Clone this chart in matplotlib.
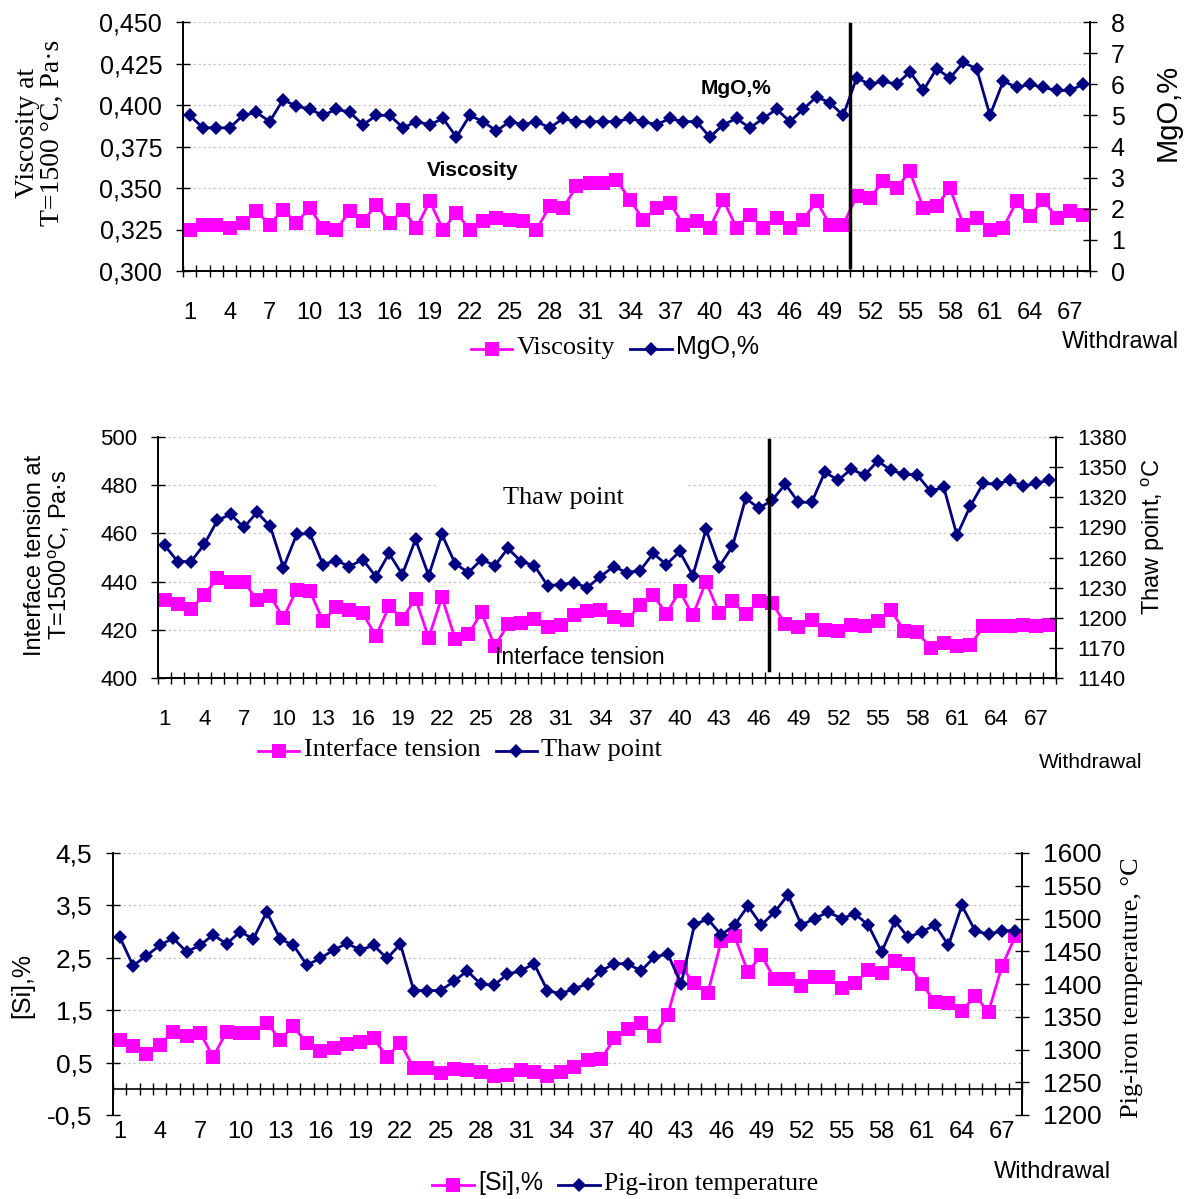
import numpy as np
import matplotlib.pyplot as plt
from matplotlib.patches import Rectangle

SANS = 'Liberation Sans'
SERIF = 'Liberation Serif'
plt.rcParams['font.family'] = SANS
plt.rcParams['mathtext.default'] = 'regular'

W, H = 1192, 1199
PINK = '#ff00ff'
NAVY = '#000080'
GRID = '#c8c8c8'

withdrawal = np.arange(1, 69)
xtick_pos = list(range(1, 68, 3))
xtick_labels = [str(i) for i in xtick_pos]

# --- panel 1 ---
viscosity = [0.325, 0.328, 0.328, 0.326, 0.329, 0.336, 0.328, 0.337, 0.329, 0.338,
             0.326, 0.325, 0.336, 0.330, 0.340, 0.329, 0.337, 0.326, 0.342, 0.325,
             0.335, 0.325, 0.330, 0.332, 0.331, 0.330, 0.325, 0.339, 0.338, 0.351,
             0.353, 0.353, 0.355, 0.343, 0.331, 0.338, 0.341, 0.328, 0.330, 0.326,
             0.343, 0.326, 0.334, 0.326, 0.332, 0.326, 0.331, 0.342, 0.328, 0.328,
             0.345, 0.344, 0.354, 0.350, 0.360, 0.338, 0.339, 0.350, 0.328, 0.332,
             0.325, 0.326, 0.342, 0.333, 0.343, 0.332, 0.336, 0.334]
mgo = [5.0, 4.6, 4.6, 4.6, 5.0, 5.1, 4.8, 5.5, 5.3, 5.2,
       5.0, 5.2, 5.1, 4.7, 5.0, 5.0, 4.6, 4.8, 4.7, 4.9,
       4.3, 5.0, 4.8, 4.5, 4.8, 4.7, 4.8, 4.6, 4.9, 4.8,
       4.8, 4.8, 4.8, 4.9, 4.8, 4.7, 4.9, 4.8, 4.8, 4.3,
       4.7, 4.9, 4.6, 4.9, 5.2, 4.8, 5.2, 5.6, 5.4, 5.0,
       6.2, 6.0, 6.1, 6.0, 6.4, 5.8, 6.5, 6.2, 6.7, 6.5,
       5.0, 6.1, 5.9, 6.0, 5.9, 5.8, 5.8, 6.0]
visc_ticks = [0.300, 0.325, 0.350, 0.375, 0.400, 0.425, 0.450]
mgo_ticks = [0, 1, 2, 3, 4, 5, 6, 7, 8]

# --- panel 2 ---
tension = [432.2, 430.6, 428.5, 434.6, 441.3, 439.7, 439.9, 432.5, 433.9, 425.0,
           436.7, 436.1, 423.6, 429.4, 428.1, 426.9, 417.4, 429.7, 424.6, 432.9,
           416.7, 433.6, 416.3, 418.1, 427.2, 413.1, 422.2, 422.8, 424.6, 421.1,
           421.8, 426.0, 427.8, 428.3, 425.3, 424.2, 430.1, 434.3, 426.7, 436.1,
           426.0, 439.9, 426.9, 431.9, 426.5, 431.9, 431.1, 422.5, 421.1, 424.2,
           420.0, 419.7, 421.8, 421.4, 423.6, 428.1, 419.7, 419.0, 412.5, 414.7,
           413.1, 413.5, 421.4, 421.4, 421.7, 421.8, 421.4, 422.1]
thaw = [1272, 1256, 1256, 1273, 1297, 1303, 1290, 1305, 1291, 1250,
        1283, 1284, 1253, 1257, 1251, 1258, 1241, 1264, 1243, 1278,
        1242, 1283, 1254, 1245, 1258, 1252, 1269, 1256, 1252, 1232,
        1233, 1235, 1230, 1241, 1251, 1245, 1247, 1264, 1253, 1266,
        1242, 1288, 1251, 1271, 1319, 1309, 1317, 1333, 1315, 1315,
        1345, 1337, 1348, 1342, 1356, 1347, 1343, 1342, 1326, 1330,
        1282, 1311, 1334, 1333, 1337, 1331, 1334, 1337]
tension_ticks = [400, 420, 440, 460, 480, 500]
thaw_ticks = [1140, 1170, 1200, 1230, 1260, 1290, 1320, 1350, 1380]

# --- panel 3 ---
si = [0.94, 0.81, 0.67, 0.84, 1.09, 1.00, 1.07, 0.61, 1.09, 1.07,
      1.06, 1.26, 0.94, 1.19, 0.87, 0.73, 0.77, 0.86, 0.90, 0.96,
      0.61, 0.88, 0.39, 0.39, 0.31, 0.37, 0.36, 0.33, 0.25, 0.27,
      0.36, 0.33, 0.25, 0.33, 0.41, 0.55, 0.56, 0.96, 1.14, 1.26,
      1.01, 1.41, 2.33, 2.01, 1.83, 2.82, 2.91, 2.23, 2.55, 2.09,
      2.09, 1.96, 2.13, 2.13, 1.92, 2.01, 2.27, 2.21, 2.44, 2.39,
      2.00, 1.66, 1.63, 1.49, 1.77, 1.47, 2.34, 2.91]
pig_temp = [1472, 1428, 1443, 1459, 1470, 1449, 1459, 1475, 1461, 1480,
            1469, 1510, 1469, 1459, 1429, 1439, 1452, 1462, 1452, 1459,
            1439, 1461, 1390, 1390, 1390, 1404, 1420, 1400, 1398, 1415,
            1420, 1431, 1390, 1385, 1393, 1400, 1420, 1431, 1431, 1420,
            1441, 1446, 1400, 1491, 1499, 1475, 1490, 1519, 1490, 1510,
            1536, 1490, 1500, 1510, 1500, 1507, 1490, 1449, 1496, 1471,
            1480, 1490, 1459, 1520, 1481, 1476, 1481, 1481]
si_ticks = [-0.5, 0.5, 1.5, 2.5, 3.5, 4.5]
pig_ticks = [1200, 1250, 1300, 1350, 1400, 1450, 1500, 1550, 1600]


def fx(x):
    return x / W


def fy(y):
    return 1 - y / H


def box(left, top, right, bottom):
    return [left / W, 1 - bottom / H, (right - left) / W, (bottom - top) / H]


def comma(v, nd):
    return f"{v:.{nd}f}".replace('.', ',')


def make_panel(rect, y1, y2, lim1, lim2, t1, t2, lab1, lab2, ysize, xsize, xpad):
    ax = fig.add_axes(rect)
    ax2 = ax.twinx()
    l1, = ax.plot(withdrawal, y1, color=PINK, lw=2, marker='s', ms=9.5,
                  markeredgewidth=0, clip_on=False)
    l2, = ax2.plot(withdrawal, y2, color=NAVY, lw=2, marker='D', ms=6.8,
                   markeredgewidth=0, clip_on=False)
    ax.set_xlim(0.5, 68.5)
    ax.set_ylim(*lim1)
    ax2.set_ylim(*lim2)
    ax.set_yticks(t1, lab1)
    ax2.set_yticks(t2, lab2)
    ax.set_xticks(xtick_pos, xtick_labels)
    ax.set_xticks(np.arange(0.5, 69, 1), minor=True)
    ax.tick_params(axis='x', which='major', length=0, pad=xpad, labelsize=xsize)
    ax.tick_params(axis='x', which='minor', direction='inout', length=9, width=1)
    ax.tick_params(axis='y', direction='inout', length=10, width=1,
                   labelsize=ysize, pad=10)
    ax2.tick_params(axis='y', direction='inout', length=10, width=1,
                    labelsize=ysize, pad=10)
    for a in (ax, ax2):
        a.spines['top'].set_visible(False)
        for s in a.spines.values():
            s.set_linewidth(1.2)
    ax.yaxis.grid(True, color=GRID, linestyle=(0, (2, 2)), linewidth=0.9)
    ax.set_axisbelow(True)
    return ax, ax2, l1, l2


def legend(handles, labels, fams, sizes, x, y):
    leg = fig.legend(handles, labels, loc='center', bbox_to_anchor=(fx(x), fy(y)),
                     ncol=2, frameon=False, handlelength=3.0, columnspacing=1.1,
                     handletextpad=0.3, borderaxespad=0)
    for t, f, s in zip(leg.get_texts(), fams, sizes):
        t.set_fontfamily(f)
        t.set_fontsize(s)
    return leg


fig = plt.figure(figsize=(W / 100, H / 100), dpi=100)

# ---------------- panel 1 ----------------
ax, ax2, l1, l2 = make_panel(box(183, 22, 1090, 271), viscosity, mgo,
                             (0.300, 0.450), (0, 8), visc_ticks, mgo_ticks,
                             [comma(v, 3) for v in visc_ticks],
                             [str(v) for v in mgo_ticks], 18, 17, 22)
ax2.axvline(50.5, ymin=0.015, ymax=0.99, color='black', lw=2.5, zorder=5)
fig.text(fx(473), fy(171), 'Viscosity', fontsize=15, fontweight='bold',
         ha='center', va='center')
fig.text(fx(736), fy(88), 'MgO,%', fontsize=15, fontweight='bold',
         ha='center', va='center')
fig.text(fx(40), fy(133), 'Viscosity at\nT=1500 °C, Pa·s', family=SERIF, fontsize=20,
         rotation=90, ha='center', va='center', linespacing=1.0)
fig.text(fx(1168), fy(112), 'MgO,%', fontsize=21, rotation=90, ha='center', va='center')
fig.text(fx(1120), fy(342), 'Withdrawal', fontsize=17, ha='center', va='center')
legend([l1, l2], ['Viscosity', 'MgO,%'], [SERIF, SANS], [19, 18], 615, 347)

# ---------------- panel 2 ----------------
ax, ax2, l1, l2 = make_panel(box(158, 437, 1056, 678), tension, thaw,
                             (400, 500), (1140, 1380), tension_ticks, thaw_ticks,
                             [str(v) for v in tension_ticks],
                             [str(v) for v in thaw_ticks], 16, 16, 22)
ax.add_patch(Rectangle((0.312, 0.77), 0.278, 0.06, transform=ax.transAxes,
                       facecolor='white', edgecolor='none', zorder=1))
ax2.axvline(46.8, ymin=0.033, ymax=0.988, color='black', lw=2.5, zorder=5)
fig.text(fx(563), fy(498), 'Thaw point', family=SERIF, fontsize=19,
         ha='center', va='center')
fig.text(fx(580), fy(657), 'Interface tension', fontsize=16.5,
         ha='center', va='center')
fig.text(fx(48), fy(555), 'Interface tension at\nT=1500$^{o}$C, Pa·s', fontsize=17,
         rotation=90, ha='center', va='center', linespacing=1.05)
fig.text(fx(1153), fy(537), 'Thaw point, $^{o}$C', fontsize=17, rotation=90,
         ha='center', va='center')
fig.text(fx(1091), fy(763), 'Withdrawal', fontsize=15, ha='center', va='center')
legend([l1, l2], ['Interface tension', 'Thaw point'], [SERIF, SERIF], [19, 19], 460, 750)

# ---------------- panel 3 ----------------
ax, ax2, l1, l2 = make_panel(box(113, 853, 1022, 1115), si, pig_temp,
                             (-0.5, 4.5), (1200, 1600), si_ticks, pig_ticks,
                             [comma(v, 1) for v in si_ticks],
                             [str(v) for v in pig_ticks], 19, 17, 4)
ax.spines['bottom'].set_visible(False)
ax2.spines['bottom'].set_visible(False)
ax.tick_params(axis='x', which='minor', length=0)
sec = ax.secondary_xaxis(0, transform=ax.transData)
sec.set_xticks(np.arange(0.5, 69, 1))
sec.tick_params(axis='x', direction='inout', length=9, width=1, labelbottom=False)
sec.spines['bottom'].set_linewidth(1.2)
fig.text(fx(22), fy(985), '[Si],%', fontsize=18, rotation=90, ha='center', va='center')
fig.text(fx(1132), fy(988), 'Pig-iron temperature, °C', family=SERIF, fontsize=19,
         rotation=90, ha='center', va='center')
fig.text(fx(1052), fy(1172), 'Withdrawal', fontsize=17, ha='center', va='center')
legend([l1, l2], ['[Si],%', 'Pig-iron temperature'], [SANS, SERIF], [18, 18.5], 625, 1183)

fig.savefig('out.png', dpi=100)
